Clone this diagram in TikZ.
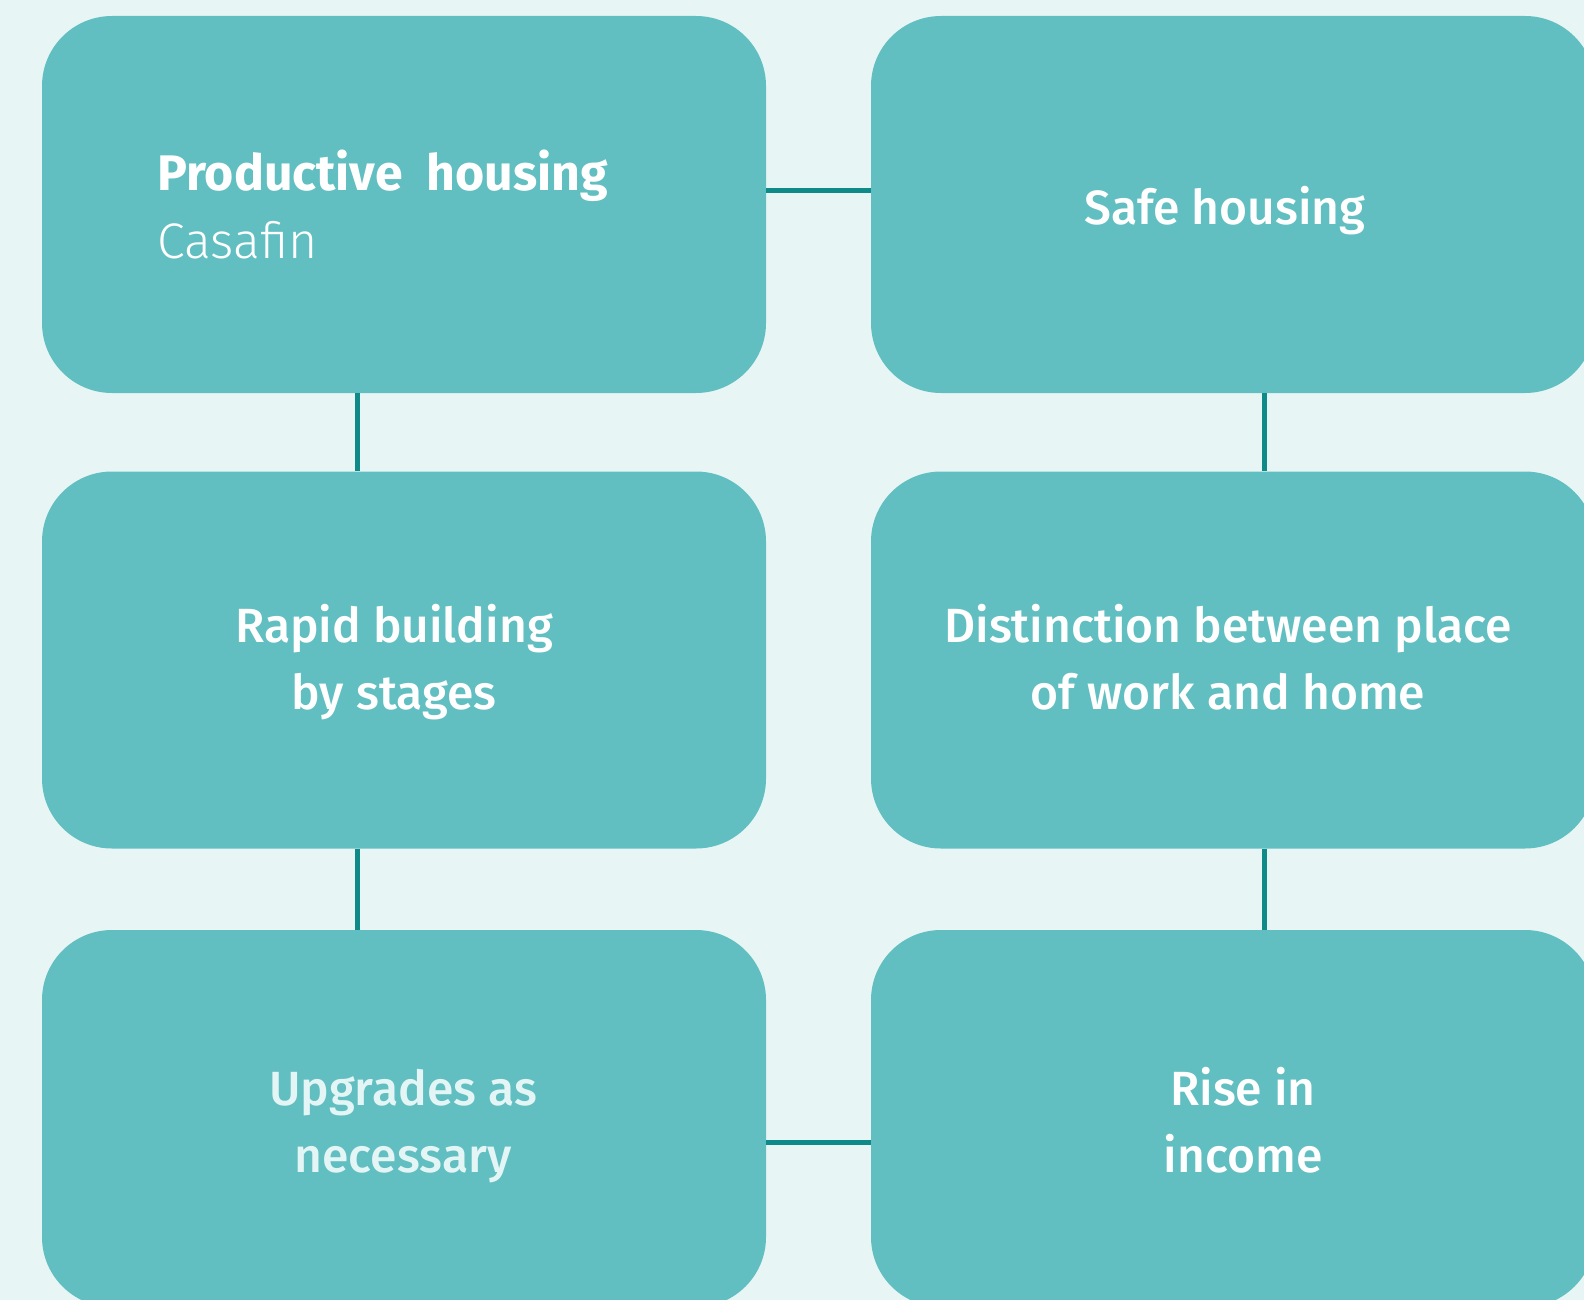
\documentclass[tikz,border=0pt]{standalone}
\usepackage{fontspec}
\setmainfont{Fira Sans Medium}[BoldFont={Fira Sans Bold}]
\newfontfamily\lightfont{Fira Sans Light}
\begin{document}
\definecolor{bgc}{HTML}{E8F5F5}
\definecolor{boxc}{HTML}{62BFC1}
\definecolor{linkc}{HTML}{0E8A88}
\definecolor{palec}{HTML}{E4F5F5}
\tikzset{
  card/.style={fill=boxc, draw=none, rounded corners=70pt, minimum width=724pt,
    minimum height=377pt, inner sep=0pt},
  label/.style={text=white, font=\fontsize{48}{67}\selectfont, align=center, inner sep=0pt},
  link/.style={draw=linkc, line width=5pt}
}
\begin{tikzpicture}[x=1pt,y=-1pt]
  \clip (0,0) rectangle (1584,1300);
  \fill[bgc] (0,0) rectangle (1584,1300);

  % cards
  \node[card] (tl) at (404,204.5) {};
  \node[card] (tr) at (1233,204.5) {};
  \node[card] (ml) at (404,660) {};
  \node[card] (mr) at (1233,660) {};
  \node[card] (bl) at (404,1118.5) {};
  \node[card] (br) at (1233,1118.5) {};

  % connectors
  \draw[link] (tl.east |- 0,191) -- (tr.west |- 0,191);
  \draw[link] (tl.south -| 357,0) -- (ml.north -| 357,0);
  \draw[link] (ml.south -| 357,0) -- (bl.north -| 357,0);
  \draw[link] (tr.south -| 1264,0) -- (mr.north -| 1264,0);
  \draw[link] (mr.south -| 1264,0) -- (br.north -| 1264,0);
  \draw[link] (bl.east |- 0,1142) -- (br.west |- 0,1142);

  % labels (base anchor sits on the last line)
  \node[label, anchor=base west] (t1) at (157,191) {\fontsize{50}{67}\selectfont\bfseries Productive\ \ housing};
  \node[label, anchor=base west] (t1b) at (157,258) {\fontsize{50}{67}\selectfont\lightfont Casafin};
  \node[label, anchor=base] (t2) at (1225,224) {Safe housing};
  \node[label, anchor=base] (t3) at (394,709) {Rapid building\\by stages};
  \node[label, anchor=base] (t4) at (1228,709) {Distinction between place\\of work and home};
  \node[label, anchor=base, text=palec] (t5) at (403,1172) {Upgrades as\\necessary};
  \node[label, anchor=base] (t6) at (1243,1172) {Rise in\\income};
\end{tikzpicture}
\end{document}
